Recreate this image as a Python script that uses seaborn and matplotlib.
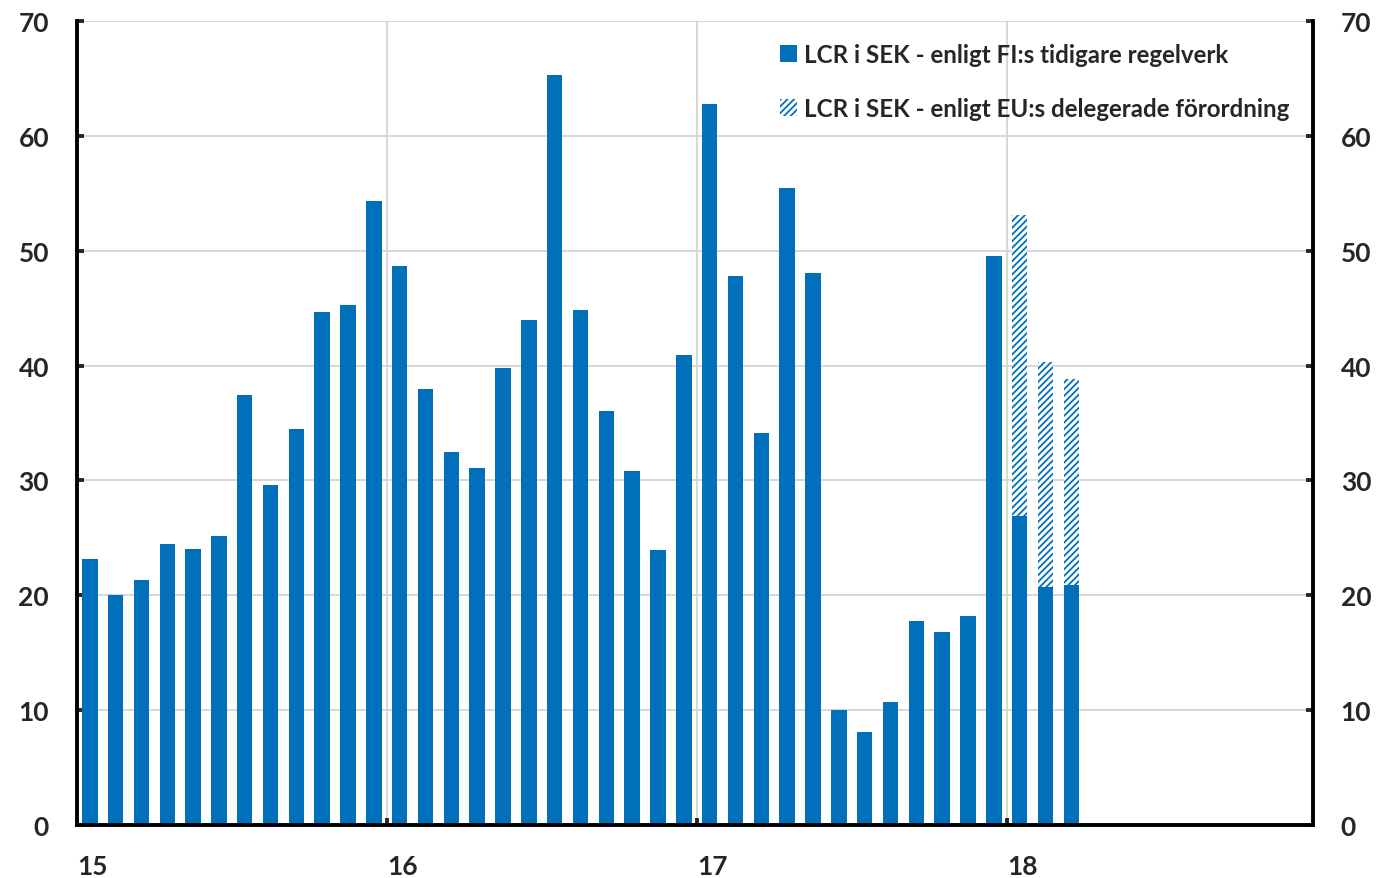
import matplotlib
matplotlib.use("Agg")
import matplotlib.pyplot as plt
from matplotlib.patches import Patch
import pandas as pd
import seaborn as sns

# LCR i SEK, månadsvis jan 2015 - mar 2018
fi_2015 = [23.2, 20.0, 21.3, 24.5, 24.0, 25.2, 37.4, 29.6, 34.5, 44.7, 45.3, 54.3]
fi_2016 = [48.7, 38.0, 32.5, 31.1, 39.8, 44.0, 65.3, 44.8, 36.0, 30.8, 23.9, 40.9]
fi_2017 = [62.8, 47.8, 34.1, 55.5, 48.1, 10.0, 8.1, 10.7, 17.8, 16.8, 18.2, 49.5]
fi_2018 = [26.9, 20.7, 20.9]
eu_2018 = [53.1, 40.3, 38.8]
year_labels = ["15", "16", "17", "18"]

fi_values = fi_2015 + fi_2016 + fi_2017 + fi_2018
months = pd.date_range("2015-01-01", periods=len(fi_values), freq="MS")

BLUE = "#0070BA"

df = pd.DataFrame({"month": months, "fi": fi_values})
df["pos"] = (df["month"].dt.year - 2015) * 12 + df["month"].dt.month - 0.5
df_eu = df.tail(len(eu_2018)).copy()
df_eu["eu"] = eu_2018

sns.set_style("white")
plt.rcParams["font.family"] = ["Lato", "DejaVu Sans"]
plt.rcParams["hatch.linewidth"] = 1.3

fig, ax = plt.subplots(figsize=(13.82, 8.79), dpi=100)
fig.subplots_adjust(left=0.0556, right=0.950, bottom=0.0603, top=0.975)

# EU-regelverk (skrafferat) bakom, FI-regelverk ovanpå
sns.barplot(data=df_eu, x="pos", y="eu", native_scale=True, width=0.6,
            color="white", saturation=1, linewidth=0, ax=ax)
for p in ax.patches:
    p.set_hatch("/////")
    p.set_edgecolor(BLUE)
    p.set_linewidth(0)
sns.barplot(data=df, x="pos", y="fi", native_scale=True, width=0.6,
            color=BLUE, saturation=1, linewidth=0, ax=ax)

ax.set_xlim(0, 47.85)
ax.set_ylim(0, 70)
ax.set_xticks([0, 12, 24, 36])
ax.set_xticklabels(year_labels)
for lab in ax.get_xticklabels():
    lab.set_ha("left")
ax.set_yticks(range(0, 71, 10))
ax.set_xlabel("")
ax.set_ylabel("")

ax.grid(True, color="#d4d4d4", linewidth=1.3)
ax.set_axisbelow(True)

for side in ["left", "bottom", "right"]:
    ax.spines[side].set_visible(True)
    ax.spines[side].set_color("black")
    ax.spines[side].set_linewidth(2.8)
ax.spines["top"].set_visible(False)

ax.tick_params(axis="y", direction="in", left=True, right=True,
               labelleft=True, labelright=True, length=5, width=2.8,
               pad=20, labelsize=19)
ax.tick_params(axis="x", direction="in", bottom=True, length=5, width=2.8,
               pad=21, labelsize=19)
for lab in ax.get_xticklabels() + ax.get_yticklabels():
    lab.set_fontweight("bold")
for t in ax.yaxis.get_major_ticks():
    t.label2.set_fontweight("bold")

handles = [
    Patch(facecolor=BLUE, edgecolor=BLUE, linewidth=0),
    Patch(facecolor="white", edgecolor=BLUE, hatch="/////", linewidth=0),
]
labels = ["LCR i SEK - enligt FI:s tidigare regelverk",
          "LCR i SEK - enligt EU:s delegerade förordning"]
ax.legend(handles, labels, loc="upper left", bbox_to_anchor=(0.551, 1.0),
          frameon=False, handlelength=0.7, handleheight=0.7,
          handletextpad=0.3, labelspacing=1.3,
          prop={"weight": "bold", "size": 17.4})

fig.savefig("out.png", dpi=100)
